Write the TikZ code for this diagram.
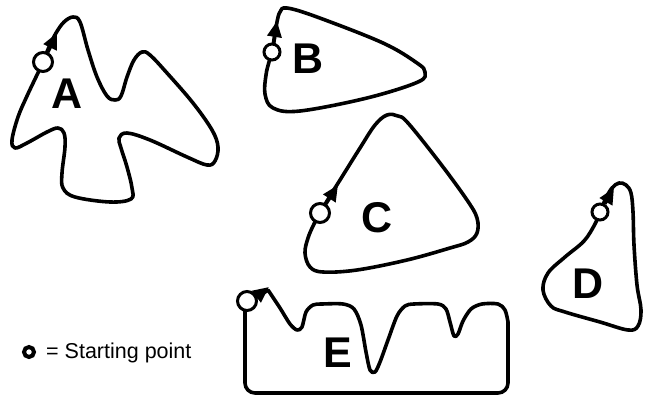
\documentclass[tikz,border=0pt]{standalone}
\usepackage{fontspec}
\setmainfont{Liberation Sans}
\usetikzlibrary{arrows.meta}
\tikzset{
    outline/.style={line width=3.6pt, line join=round, line cap=round},
    startpt/.style={circle, draw, fill=white, line width=3pt, minimum size=19pt, inner sep=0pt},
    dirtip/.style={line width=3.6pt, -{Triangle[length=16pt, width=14pt]}},
    letter/.style={font=\fontsize{43}{43}\selectfont\bfseries, inner sep=0pt},
}

\begin{document}
\begin{tikzpicture}[x=1pt, y=-1pt]
    \useasboundingbox (0,0) rectangle (645,396);
    \draw[outline] plot[smooth cycle, tension=.6] coordinates {(43,62) (49,47) (56,33) (64,22) (73,17) (80,22) (88,50) (97,77) (107,96) (115,100) (121,96) (127,77) (134,60) (142,52) (150,55) (167,73) (193,103) (212,130) (218,147) (215,161) (207,165) (187,157) (150,140) (127,133) (119,138) (121,148) (127,167) (132,188) (131,199) (110,202) (75,197) (63,188) (62,173) (65,147) (64,133) (58,128) (47,132) (27,143) (15,148) (12,140) (18,117) (27,96) (36,77)};
    \draw[outline] plot[smooth cycle, tension=.6] coordinates {(272,52) (275,35) (277,22) (280,12) (287,8) (317,17) (383,43) (417,63) (425,72) (418,82) (367,98) (300,111) (273,108) (265,94) (266,75) (269,62)};
    \draw[outline] plot[smooth cycle, tension=.6] coordinates {(320,213) (330,196) (340,180) (360,148) (375,125) (387,115) (398,116) (408,123) (440,163) (467,200) (477,218) (477,233) (468,242) (450,248) (407,260) (357,270) (323,272) (310,267) (305,253) (308,238) (314,224)};
    \draw[outline] plot[smooth cycle, tension=.6] coordinates {(600,212) (606,198) (612,188) (619,183) (626,185) (631,193) (633,212) (634,245) (637,285) (641,310) (638,326) (628,330) (600,322) (565,312) (551,306) (543,290) (548,273) (565,257) (584,241) (595,224)};
    \draw[outline] (247,301) -- (259,296) -- (268,290)
        -- plot[smooth, tension=.5] coordinates {(268,290) (280,308) (290,324) (297,330) (302,327) (306,312) (313,305) (322,304) (343,304) (354,309) (361,325) (366,352) (370,370) (375,372) (380,362) (388,340) (397,316) (405,306) (414,304) (438,304) (446,309) (450,322) (454,336) (458,334) (463,321) (471,309) (482,304) (498,304) (505,310) (508,322)};
    \draw[outline, rounded corners=10pt] (508,322) -- (508,393) -- (245,393) -- (245,301);

    \node[startpt] (sA) at (43,62) {};
    \node[startpt, minimum size=16pt] (sB) at (272,52) {};
    \node[startpt] (sC) at (320,213) {};
    \node[startpt, minimum size=16pt] (sD) at (600,212) {};
    \node[startpt] (sE) at (247,301) {};

    \draw[dirtip] (sA) -- (57,33);
    \draw[dirtip] (sB) -- (277,21);
    \draw[dirtip] (sC) -- (338,185);
    \draw[dirtip] (sD) -- (614,188);
    \draw[dirtip] (256,297) -- (269,287);

    \node[letter] (lA) at (67,94) {A};
    \node[letter] (lB) at (308,59) {B};
    \node[letter] (lC) at (377,218) {C};
    \node[letter] (lD) at (588,284) {D};
    \node[letter] (lE) at (338,353) {E};

    \node[startpt, minimum size=10pt, line width=4pt] (key) at (29,352) {};
    \node[anchor=base west, inner sep=0pt, font=\fontsize{21.5}{21.5}\selectfont] (keytext) at (46,358) {= Starting point};
\end{tikzpicture}
\end{document}
